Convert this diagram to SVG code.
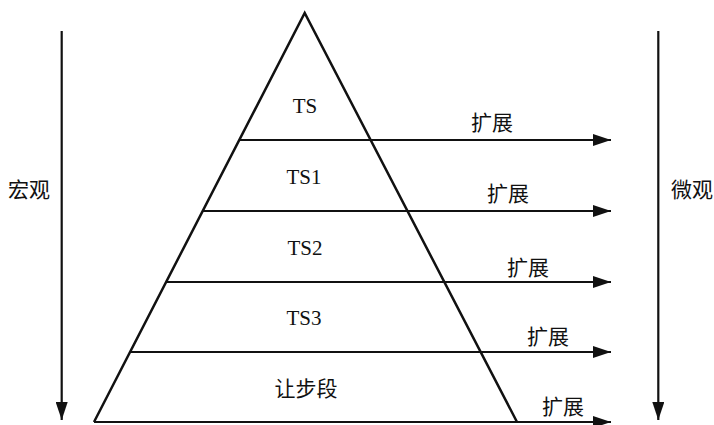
<svg xmlns="http://www.w3.org/2000/svg" width="714" height="425" viewBox="0 0 714 425">
<defs>
<marker id="ah" markerWidth="18" markerHeight="12" refX="18" refY="6" orient="auto" markerUnits="userSpaceOnUse">
<path d="M0,0 L18,6 L0,12 Z" fill="#111"/>
</marker>
<style>
.ln{stroke:#111;stroke-width:2.2;fill:none}
.tri{stroke:#111;stroke-width:2.5;fill:none;stroke-linejoin:miter}
.t{font-family:"Liberation Serif","Noto Sans CJK SC",serif;font-size:21px;fill:#111;text-anchor:middle}
</style>
</defs>
<rect width="714" height="425" fill="#fff"/>
<g id="pyramid">
<path class="tri" d="M94,422 L304.7,13 L517,422"/>
</g>
<g id="connectors">
<line class="ln" x1="61.7" y1="31" x2="61.7" y2="420" marker-end="url(#ah)"/>
<line class="ln" x1="658.3" y1="31" x2="658.3" y2="420" marker-end="url(#ah)"/>
<line class="ln" x1="239.3" y1="140" x2="611" y2="140" marker-end="url(#ah)"/>
<line class="ln" x1="203" y1="211" x2="611" y2="211" marker-end="url(#ah)"/>
<line class="ln" x1="166.5" y1="282" x2="611" y2="282" marker-end="url(#ah)"/>
<line class="ln" x1="130.5" y1="352" x2="611" y2="352" marker-end="url(#ah)"/>
<line class="ln" x1="94" y1="422" x2="611" y2="422" marker-end="url(#ah)"/>
</g>
<g id="n-ts"><text class="t" x="305" y="113">TS</text></g>
<g id="n-ts1"><text class="t" x="304" y="184">TS1</text></g>
<g id="n-ts2"><text class="t" x="305" y="255">TS2</text></g>
<g id="n-ts3"><text class="t" x="304" y="325">TS3</text></g>
<g id="n-rang"><text class="t" x="306" y="396">让步段</text></g>
<g id="n-macro"><text class="t" x="29" y="197">宏观</text></g>
<g id="n-micro"><text class="t" x="692" y="197">微观</text></g>
<g id="labels">
<text class="t" x="492" y="130">扩展</text>
<text class="t" x="508" y="201">扩展</text>
<text class="t" x="528" y="275">扩展</text>
<text class="t" x="548" y="344">扩展</text>
<text class="t" x="563" y="414">扩展</text>
</g>
</svg>
